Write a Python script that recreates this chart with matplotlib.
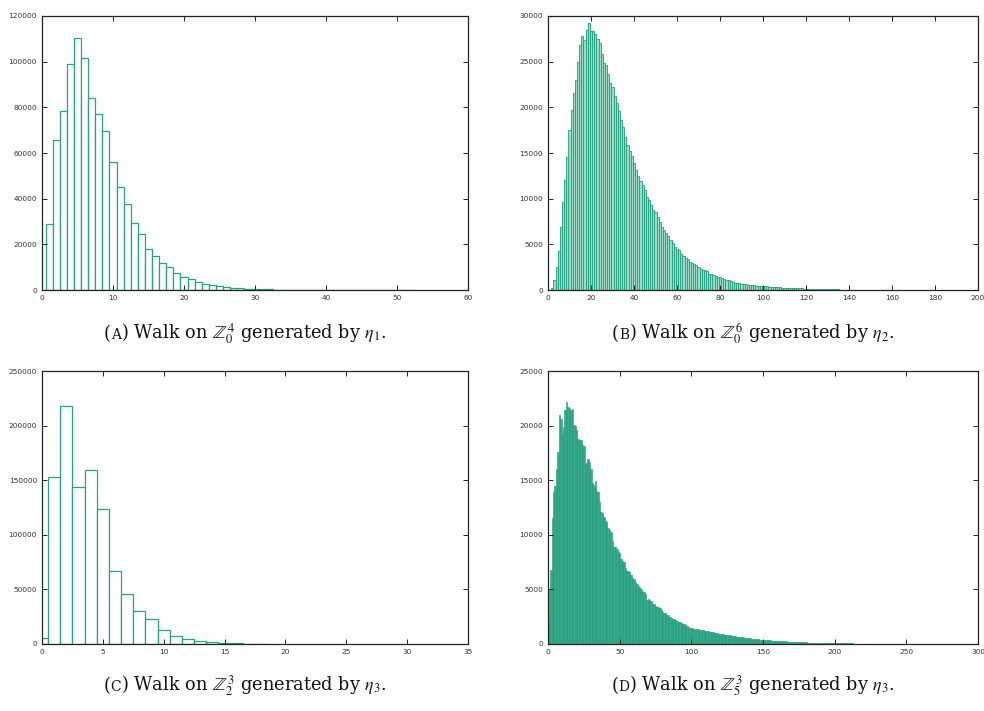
#%%
import numpy as np
import matplotlib
matplotlib.use("Agg")
import matplotlib.pyplot as plt

plt.rcParams['mathtext.fontset'] = 'stix'
plt.rcParams['font.family'] = ['DejaVu Sans']

#%%
# histogram counts, one bar per integer length
a_start = 1
a_counts = [29000, 65500, 78500, 99000, 110500, 101500, 84000, 77000, 69500, 56000,
            45000, 37800, 29400, 24500, 18000, 15000, 12000, 10000, 7500, 5800,
            4600, 3600, 2800, 2100, 1700, 1300, 1000, 800, 550, 420,
            330, 240, 180, 130, 100, 75, 55, 40, 30, 22,
            16, 12, 9, 6, 5, 3, 2, 2, 1, 1, 1, 1]

b_start = 1
b_counts = [30, 250, 1100, 2500, 4300, 6900, 9600, 12000, 14600, 17500,
            19700, 21600, 23000, 25000, 26800, 27800, 27400, 28500, 29200, 28400,
            28400, 28000, 27500, 27000, 25800, 24900, 24600, 23600, 22700, 22200,
            21200, 20500, 19600, 18600, 17800, 16800, 15900, 15200, 14700, 13900,
            13100, 12500, 11900, 11500, 11000, 10200, 9800, 9300, 8800, 8500,
            8000, 7500, 6900, 6600, 6200, 5900, 5500, 5100, 4700, 4500,
            4400, 3900, 3700, 3500, 3400, 3100, 3000, 2900, 2700, 2550,
            2300, 2150, 2150, 2050, 1800, 1700, 1600, 1500, 1450, 1400,
            1300, 1150, 1100, 1050, 950, 880, 820, 780, 740, 700,
            650, 620, 590, 560, 530, 510, 490, 470, 450, 430,
            410, 390, 370, 350, 335, 320, 300, 285, 270, 255,
            240, 228, 215, 205, 195, 185, 175, 165, 155, 145,
            135, 128, 120, 113, 106, 100, 94, 88, 82, 77,
            72, 68, 63, 59, 55, 52, 48, 45, 42, 39,
            36, 34, 31, 29, 27, 25, 23, 21, 20, 18,
            17, 16, 15, 14, 13, 12, 11, 10, 9, 9,
            8, 7, 7, 6, 6, 5, 5, 4, 4, 4,
            3, 3, 3, 3, 2, 2, 2, 2, 2, 1, 1, 1, 1, 1, 1]

c_start = 0
c_counts = [5200, 153000, 217700, 144000, 159000, 123300, 67300, 45400, 30100, 22800,
            12500, 7300, 4600, 3000, 1800, 1100, 650, 350, 200]

d_start = 0
d_counts = [1900, 5000, 6800, 11500, 13900, 14500, 16000, 17600, 21000, 20600,
            19200, 19900, 21400, 22200, 21700, 21600, 21400, 21500, 20100, 20000,
            19600, 18800, 18700, 18700, 18200, 18100, 16500, 16600, 16900, 16700,
            16000, 14700, 14600, 14900, 14000, 13900, 13000, 12100, 12000, 11600,
            11300, 11200, 10600, 10400, 10300, 9400, 8900, 8850, 8700, 8400,
            8350, 7800, 7600, 7550, 7000, 6700, 6650, 6600, 6300, 6000,
            5950, 5700, 5500, 5300, 5250, 5000, 4800, 4750, 4600, 4000,
            4100, 4050, 3900, 3700, 3650, 3500, 3400, 3350, 3300, 3100,
            2900, 2850, 2800, 2700, 2650, 2500, 2400, 2300, 2250, 2200,
            2100, 2050, 2000, 1900, 1850, 1800, 1700, 1650, 1600, 1500,
            1450, 1420, 1400, 1380, 1350, 1330, 1300, 1280, 1250, 1230,
            1200, 1170, 1150, 1120, 1100, 1070, 1040, 1010, 980, 960,
            940, 910, 890, 860, 840, 820, 800, 780, 760, 740,
            720, 700, 680, 660, 640, 620, 600, 580, 560, 540,
            520, 505, 490, 475, 460, 445, 430, 415, 400, 390,
            380, 370, 360, 350, 340, 330, 320, 310, 300, 290,
            280, 272, 264, 256, 248, 240, 232, 224, 216, 208,
            200, 194, 188, 182, 176, 170, 164, 158, 152, 146,
            140, 136, 132, 128, 124, 120, 116, 112, 108, 104,
            100, 97, 94, 91, 88, 85, 82, 79, 76, 73,
            70, 68, 66, 64, 62, 60, 58, 56, 54, 52,
            50, 48, 47, 45, 44, 42, 41, 39, 38, 36,
            35, 34, 33, 32, 31, 30, 29, 28, 27, 26,
            25, 24, 23, 22, 21, 20, 19, 18, 17, 16,
            15, 14, 14, 13, 13, 12, 12, 11, 11, 10,
            10, 9, 8, 7, 6, 5, 4, 3, 2]

# axis ranges and tick steps
a_xmax, a_xstep, a_ymax, a_ystep = 60, 10, 120000, 20000
b_xmax, b_xstep, b_ymax, b_ystep = 200, 20, 30000, 5000
c_xmax, c_xstep, c_ymax, c_ystep = 35, 5, 250000, 50000
d_xmax, d_xstep, d_ymax, d_ystep = 300, 50, 25000, 5000

captions = [
    ('A', r'Walk on $\mathbb{Z}_0^4$ generated by $\eta_1$.'),
    ('B', r'Walk on $\mathbb{Z}_0^6$ generated by $\eta_2$.'),
    ('C', r'Walk on $\mathbb{Z}_2^3$ generated by $\eta_3$.'),
    ('D', r'Walk on $\mathbb{Z}_5^3$ generated by $\eta_3$.'),
]

#%%
W, H = 984, 711
fig = plt.figure(figsize=(W / 100, H / 100), dpi=100)


def make_axes(left, top, right, bottom):
    return fig.add_axes([left / W, 1 - bottom / H, (right - left) / W, (bottom - top) / H])


def hist_panel(ax, start, counts, xmax, xstep, ymax, ystep, face, edge, lw):
    x = np.arange(start, start + len(counts))
    ax.bar(x, counts, width=1.0, facecolor=face, edgecolor=edge, linewidth=lw)
    ax.set_xlim(0, xmax)
    ax.set_ylim(0, ymax)
    ax.set_xticks(np.arange(0, xmax + 1, xstep))
    ax.set_yticks(np.arange(0, ymax + 1, ystep))
    ax.tick_params(direction='in', top=True, right=True, length=3.6, width=0.7,
                   labelsize=5.3, labelcolor='#333333', color='#222222', pad=3.5)
    for s in ax.spines.values():
        s.set_linewidth(0.9)
        s.set_color('#222222')


ax_a = make_axes(42, 16, 468, 290)
ax_b = make_axes(548, 16, 978, 290)
ax_c = make_axes(42, 371, 468, 644)
ax_d = make_axes(548, 371, 978, 644)

hist_panel(ax_a, a_start, a_counts, a_xmax, a_xstep, a_ymax, a_ystep, 'white', '#23a482', 0.9)
hist_panel(ax_b, b_start, b_counts, b_xmax, b_xstep, b_ymax, b_ystep, '#9fdac8', '#1f9f7d', 0.6)
hist_panel(ax_c, c_start, c_counts, c_xmax, c_xstep, c_ymax, c_ystep, 'white', '#23a482', 0.9)
hist_panel(ax_d, d_start, d_counts, d_xmax, d_xstep, d_ymax, d_ystep, '#36ae8e', '#1e9677', 0.4)

#%%
# captions with a small-caps panel letter, laid out piece by piece on one baseline
renderer = fig.canvas.get_renderer()


def caption(xc, yb, letter, rest, size=12.8):
    kw = dict(va='baseline', ha='left', family='DejaVu Serif', color='#111111')
    parts = [fig.text(0, 1 - yb / H, '(', fontsize=size, **kw),
             fig.text(0, 1 - yb / H, letter, fontsize=size * 0.78, **kw),
             fig.text(0, 1 - yb / H, ') ' + rest, fontsize=size, **kw)]
    widths = [p.get_window_extent(renderer).width for p in parts]
    x = xc - sum(widths) / 2
    for p, w in zip(parts, widths):
        p.set_x(x / W)
        x += w


caption(245, 339, *captions[0])
caption(753, 339, *captions[1])
caption(245, 691, *captions[2])
caption(753, 691, *captions[3])

fig.savefig('out.png', dpi=100)
